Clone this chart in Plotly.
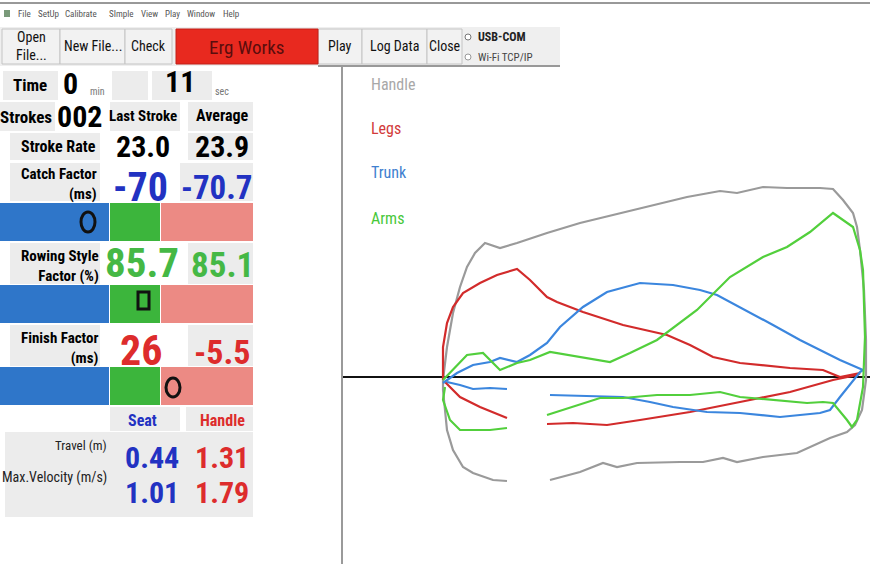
import plotly.graph_objects as go

W, H = 870, 564
NARROW = "Roboto Condensed, Open Sans Condensed, DejaVu Sans, sans-serif"

# Stroke curves ---------------------------------------------------------------
# x : handle position from the catch, y : relative segment contribution
# (drive on top, recovery underneath, a short gap in the recovery trace)
handle_x = [0, 4, 10, 17, 24, 32, 42, 57, 74, 104, 137, 170, 210, 244, 277, 294, 320, 344,
            377, 390, 400, 410, 414, 417, 421, 423, 423, 419, 412, 404,
            387, 354, 320, 294, 280, 260, 237, 194, 174, 160, 137, 107, None,
            64, 50, 30, 20, 10, 4, 2, 0, 0]
handle_y = [-3, 30, 64, 90, 110, 124, 134, 129, 134, 144, 154, 162, 172, 180, 186, 184, 190, 189,
            189, 188, 177, 164, 150, 127, 87, 37, -3, -33, -48, -55,
            -61, -76, -80, -85, -81, -85, -85, -86, -90, -86, -95, -103, None,
            -104, -103, -96, -90, -73, -53, -33, -13, -3]

legs_x = [0, 0, 4, 10, 20, 37, 54, 74, 87, 104, 114, 140, 180, 224, 247, 270, 297, 347, 380, 397, 417,
          414, 390, 347, 297, 247, 197, 164, 130, 104, None,
          64, 37, 17, 7, 2]
legs_y = [-3, 30, 54, 70, 84, 94, 102, 108, 97, 80, 75, 65, 52, 42, 32, 20, 14, 9, 7, 0, 4,
          2, -3, -15, -25, -35, -43, -48, -46, -47, None,
          -41, -30, -20, -10, -5]

trunk_x = [0, 14, 30, 47, 57, 74, 87, 104, 117, 140, 164, 197, 230, 257, 274, 297, 330, 357, 377, 397, 420,
           417, 397, 387, 377, 337, 297, 264, 230, 207, 180, 147, 107, None,
           64, 47, 30, 17, 4]
trunk_y = [-6, 4, 12, 15, 19, 15, 22, 34, 50, 70, 85, 94, 92, 87, 82, 70, 52, 37, 27, 17, 7,
           5, -20, -33, -36, -40, -36, -35, -30, -25, -20, -19, -18, None,
           -12, -11, -12, -8, -5]

arms_x = [0, 10, 17, 24, 40, 57, 74, 87, 107, 137, 167, 187, 214, 254, 287, 320, 344, 367, 390, 410,
          417, 420, 422, 420, 414, 409,
          404, 390, 380, 364, 330, 297, 277, 247, 214, 180, 157, 130, 104, None,
          64, 47, 30, 17, 7, 0, 2]
arms_y = [-3, 7, 15, 22, 24, 7, 14, 17, 25, 20, 15, 24, 37, 67, 100, 120, 130, 145, 164, 150,
          127, 107, 40, -10, -43, -50,
          -43, -26, -25, -26, -23, -20, -15, -18, -18, -21, -21, -30, -38, None,
          -51, -53, -53, -53, -43, -23, -10]

series_names = ["Handle", "Legs", "Trunk", "Arms"]
series_colors = ["#9a9a9a", "#d22b2b", "#3b86de", "#52cf3c"]
legend_colors = ["#a8a8a8", "#d23a3a", "#3f80cf", "#48c83a"]

# Panel values ----------------------------------------------------------------
time_min, time_sec, strokes = "0", "11", "002"
stroke_rate = ["23.0", "23.9"]
catch_factor = ["-70", "-70.7"]
style_factor = ["85.7", "85.1"]
finish_factor = ["26", "-5.5"]
travel = ["0.44", "1.31"]
max_velocity = ["1.01", "1.79"]

menu_items = ["File", "SetUp", "Calibrate", "SImple", "View", "Play", "Window", "Help"]
menu_left = [17, 37, 64, 108, 140, 164, 186, 222]

# helpers ---------------------------------------------------------------------
shapes, notes = [], []


def px(x):
    return x / W


def py(y):
    return 1 - y / H


def rect(x0, y0, x1, y1, fill, line_color=None, line_width=1, kind="rect"):
    shapes.append(dict(type=kind, xref="paper", yref="paper",
                       x0=px(x0), x1=px(x1), y0=py(y1), y1=py(y0),
                       fillcolor=fill,
                       line=dict(color=line_color or fill, width=line_width if line_color else 0)))


def line(x0, y0, x1, y1, color, width=1):
    shapes.append(dict(type="line", xref="paper", yref="paper",
                       x0=px(x0), x1=px(x1), y0=py(y0), y1=py(y1),
                       line=dict(color=color, width=width)))


def text(x, y, s, size, color="black", bold=False, anchor="center", family=NARROW, align="center"):
    notes.append(dict(xref="paper", yref="paper", x=px(x), y=py(y),
                      text=f"<b>{s}</b>" if bold else s, showarrow=False,
                      xanchor=anchor, yanchor="middle", align=align, borderpad=0,
                      font=dict(size=size, color=color, family=family)))


# Top frame -------------------------------------------------------------------
line(0, 3, W, 3, "#333333", 1)
rect(4, 10, 10, 17, "#7a9a7a")
for lab, x in zip(menu_items, menu_left):
    text(x, 14, lab, 9, "#555555", anchor="left")

# toolbar
rect(0, 27, 560, 66, "#efefef")
line(318, 66, 560, 66, "#999999", 2)
for x0, x1, lab in [(2, 60, "Open<br>File..."), (60, 125, "New File..."), (125, 172, "Check"),
                    (318, 362, "Play"), (362, 427, "Log Data"), (427, 462, "Close")]:
    rect(x0, 29, x1, 64, "#f2f2f2", "#c4c4c4", 1)
    text((x0 + x1) / 2, 46, lab, 14, "#111111")
rect(176, 29, 318, 64, "#e8291f", "#c02018", 1)
text(247, 47, "Erg Works", 19, "#5a0d0d")
rect(465, 34, 471, 40, "#ffffff", "#777777", 1, kind="circle")
rect(465, 54, 471, 60, "#ffffff", "#999999", 1, kind="circle")
text(477, 37, "<b>USB-COM</b>", 12, "#222222", anchor="left")
text(477, 58, "Wi-Fi TCP/IP", 11, "#444444", anchor="left")

# Left panel ------------------------------------------------------------------
cell = "#ececec"
for x0, y0, x1, y1 in [(3, 71, 58, 100), (112, 71, 148, 100), (152, 71, 212, 100),
                       (0, 102, 55, 131), (110, 102, 180, 131), (188, 102, 253, 131),
                       (10, 133, 100, 160), (188, 133, 253, 160),
                       (10, 163, 100, 201), (180, 163, 253, 201),
                       (10, 243, 100, 284), (188, 243, 253, 284),
                       (10, 325, 100, 366), (188, 325, 253, 366),
                       (110, 407, 180, 431), (186, 407, 253, 431),
                       (5, 432, 253, 517)]:
    rect(x0, y0, x1, y1, cell)

blue_bar, green_bar, pink_bar = "#2f76c9", "#3cb53c", "#ec8a84"
for y0, y1 in [(203, 241), (285, 323), (367, 405)]:
    rect(0, y0, 109, y1, blue_bar)
    rect(110, y0, 160, y1, green_bar)
    rect(161, y0, 253, y1, pink_bar)
rect(81, 212, 95, 232, "rgba(0,0,0,0)", "#111111", 3, kind="circle")
rect(138, 292, 149, 309, "rgba(0,0,0,0)", "#111111", 3)
rect(166, 378, 180, 397, "rgba(0,0,0,0)", "#111111", 3, kind="circle")

blue_txt, green_txt, red_txt = "#2232c2", "#45b845", "#dd2c2c"
text(30, 85, "Time", 17, bold=True)
text(70, 83, time_min, 30, bold=True)
text(97, 91, "min", 10, "#777777")
text(180, 82, time_sec, 30, bold=True)
text(222, 91, "sec", 10, "#777777")

text(26, 117, "Strokes", 17, bold=True)
text(79, 117, strokes, 30, bold=True)
text(143, 116, "Last Stroke", 15, bold=True)
text(222, 116, "Average", 16, bold=True)

text(97, 146, "Stroke Rate", 16, bold=True, anchor="right")
text(143, 146, stroke_rate[0], 30, bold=True)
text(222, 146, stroke_rate[1], 30, bold=True)

text(98, 184, "Catch Factor<br>(ms)", 15, bold=True, anchor="right", align="right")
text(140, 188, catch_factor[0], 40, blue_txt, bold=True)
text(217, 188, catch_factor[1], 33, blue_txt, bold=True)

text(100, 266, "Rowing Style<br>Factor (%)", 15, bold=True, anchor="right", align="right")
text(142, 263, style_factor[0], 41, green_txt, bold=True)
text(222, 265, style_factor[1], 35, green_txt, bold=True)

text(100, 348, "Finish Factor<br>(ms)", 15, bold=True, anchor="right", align="right")
text(141, 350, finish_factor[0], 42, red_txt, bold=True)
text(222, 352, finish_factor[1], 34, red_txt, bold=True)

text(142, 420, "Seat", 16, blue_txt, bold=True)
text(222, 420, "Handle", 16, red_txt, bold=True)

text(108, 445, "Travel (m)", 13, "#222222", anchor="right")
text(108, 478, "Max.Velocity (m/s)", 14, "#222222", anchor="right")
text(152, 457, travel[0], 30, blue_txt, bold=True)
text(222, 457, travel[1], 30, red_txt, bold=True)
text(152, 492, max_velocity[0], 30, blue_txt, bold=True)
text(222, 492, max_velocity[1], 30, red_txt, bold=True)

# divider between panels
line(342, 66, 342, H, "#9a9a9a", 2)

# Right panel labels
for name, c, y in zip(series_names, legend_colors, [85, 128, 172, 218]):
    text(370, y, name, 16, c, anchor="left")

# Curves ----------------------------------------------------------------------
fig = go.Figure()
for name, xs, ys, c in zip(series_names,
                           [handle_x, legs_x, trunk_x, arms_x],
                           [handle_y, legs_y, trunk_y, arms_y],
                           series_colors):
    fig.add_trace(go.Scatter(x=xs, y=ys, mode="lines", name=name,
                             line=dict(color=c, width=2.2), connectgaps=False,
                             showlegend=False))

fig.update_layout(
    width=W, height=H,
    margin=dict(l=0, r=0, t=0, b=0),
    paper_bgcolor="white", plot_bgcolor="rgba(0,0,0,0)",
    xaxis=dict(domain=[343 / W, 1], range=[-100, 427], visible=False),
    yaxis=dict(domain=[0, py(66)], range=[-187, 311],
               showgrid=False, showticklabels=False, ticks="", showline=False,
               zeroline=True, zerolinecolor="#111111", zerolinewidth=2),
    shapes=shapes,
    annotations=notes,
)

# page margin off so the 870x564 figure fills the window exactly
fig.write_html("out.html", config={"displayModeBar": False},
               post_script="document.body.style.margin = '0';")
